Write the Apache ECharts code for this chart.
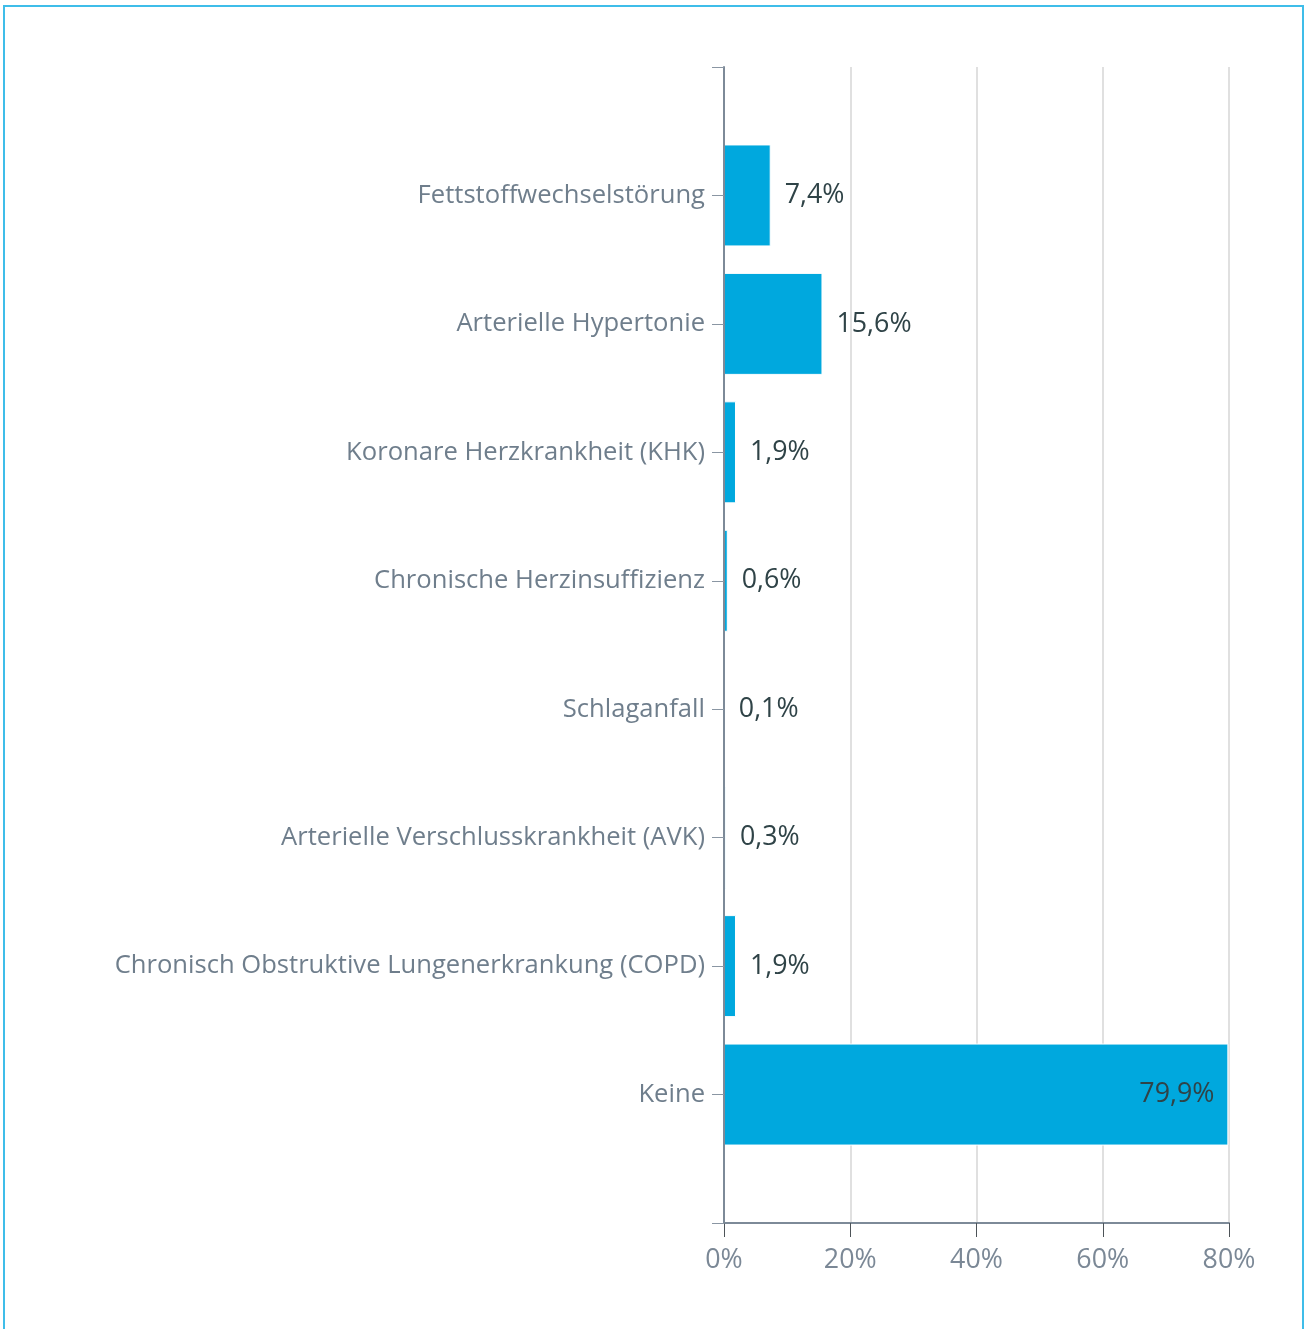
<!DOCTYPE html>
<html>
<head>
<meta charset="utf-8">
<script src="https://cdn.jsdelivr.net/npm/echarts@6/dist/echarts.min.js"></script>
<style>
  html, body { margin: 0; padding: 0; background: #fff; }
  #frame {
    position: absolute; left: 3px; top: 5px; width: 1297px; height: 1340px;
    border: 2px solid #3fbde9; border-bottom: none;
  }
  #chart { position: absolute; left: 0; top: 0; width: 1304px; height: 1329px; }
</style>
</head>
<body>
<div id="frame"></div>
<div id="chart"></div>
<script>
// Vorerkrankungen – Anteil in Prozent
const categories = [
  'Fettstoffwechselstörung',
  'Arterielle Hypertonie',
  'Koronare Herzkrankheit (KHK)',
  'Chronische Herzinsuffizienz',
  'Schlaganfall',
  'Arterielle Verschlusskrankheit (AVK)',
  'Chronisch Obstruktive Lungenerkrankung (COPD)',
  'Keine'
];
const shares = [7.4, 15.6, 1.9, 0.6, 0.1, 0.3, 1.9, 79.9];
const axisMin = 0;
const axisMax = 80;
const axisStep = 20;

const fmt = v => v.toFixed(1).replace('.', ',') + '%';
const font = '"Open Sans", "Noto Sans", sans-serif';

// one empty slot before and after the categories leaves air
// at both ends of the vertical axis and puts end ticks there
const axisCats = [''].concat(categories, ['']);
const barData = [null].concat(
  shares.map((v, i) => ({
    value: v,
    label: i === shares.length - 1 ? { position: 'insideRight' } : {}
  })),
  [null]
);

const chart = echarts.init(document.getElementById('chart'), null, { renderer: 'canvas' });
chart.setOption({
  animation: false,
  grid: { left: 724, right: 75, top: 67, bottom: 106, containLabel: false },
  xAxis: {
    type: 'value', min: axisMin, max: axisMax, interval: axisStep,
    axisLine: { show: true, lineStyle: { color: '#7d8a98', width: 2 } },
    axisTick: { show: true, length: 14, lineStyle: { color: '#4d5358', width: 1 } },
    axisLabel: {
      margin: 24, fontSize: 26.8, color: '#7b8896', fontFamily: font,
      formatter: v => v + '%'
    },
    splitLine: { show: true, lineStyle: { color: '#e0e0e0', width: 2 } }
  },
  yAxis: {
    type: 'category', data: axisCats, inverse: true, boundaryGap: false,
    z: 3,
    axisLine: { show: true, lineStyle: { color: '#7d8a98', width: 2 } },
    axisTick: { show: true, interval: 0, length: 12, lineStyle: { color: '#8a96a3', width: 1 } },
    axisLabel: { interval: 0, margin: 19, fontSize: 25.6, color: '#6f7e8c', fontFamily: font }
  },
  series: [{
    type: 'bar',
    data: barData,
    barWidth: 102,
    itemStyle: { color: '#00a8de', borderColor: '#ffffff', borderWidth: 1 },
    label: {
      show: true, position: 'right', distance: 14,
      fontSize: 26.8, color: '#2f4347', fontFamily: font,
      formatter: p => fmt(p.value)
    }
  }]
});
</script>
</body>
</html>
